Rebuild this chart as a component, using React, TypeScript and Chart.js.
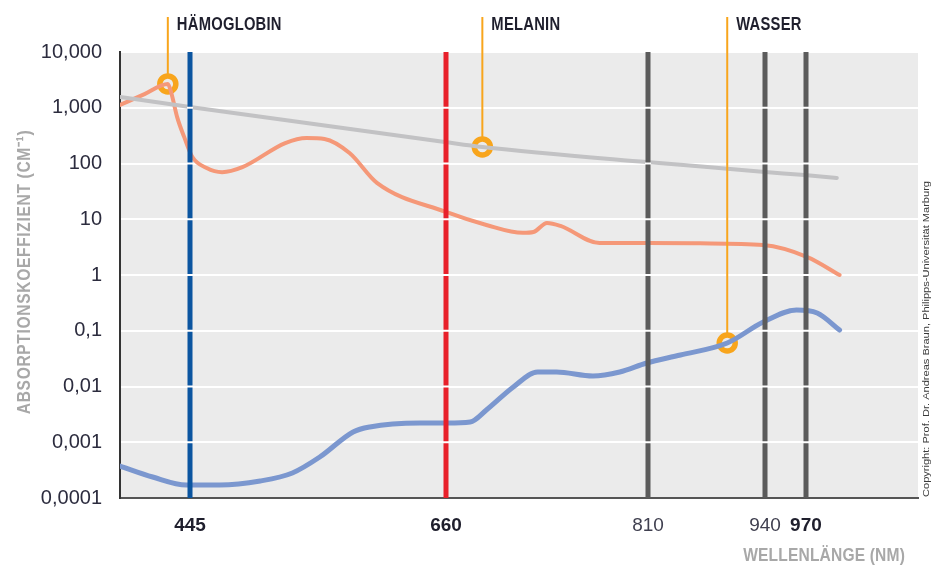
import { useEffect, useRef } from 'react';
import { Chart, registerables, LinearScale } from 'chart.js';

// ---- Data -------------------------------------------------------------
// Absorption curves (wavelength in nm, absorption coefficient in cm^-1)
const hbWavelength = [385, 406, 426, 429, 434, 440, 447, 459, 472, 489, 525, 543, 558, 579, 602, 660, 690, 717, 725, 735, 745, 774, 810, 868, 938, 971, 994];
const hbAbsorption = [1120, 1760, 2670, 1840, 680, 300, 131, 83, 70, 86, 233, 287, 275, 154, 45, 13.5, 7.9, 5.7, 5.9, 8.6, 7.6, 3.75, 3.75, 3.7, 3.45, 2.1, 1.0];

const melWavelength = [385, 445, 659, 687, 809, 876, 940, 969, 992];
const melAbsorption = [1560, 1030, 243, 198, 106, 86.5, 70.4, 62.2, 55];

const waterWavelength = [385, 413, 442, 470, 504, 531, 554, 582, 596, 638, 661, 678, 690, 710, 728, 742, 769, 789, 809, 846, 898, 938, 963, 978, 994];
const waterAbsorption = [0.000375, 0.000238, 0.000171, 0.000171, 0.000202, 0.000281, 0.000543, 0.00153, 0.00188, 0.00221, 0.00221, 0.00231, 0.00379, 0.0098, 0.0182, 0.0182, 0.0154, 0.0182, 0.0264, 0.0367, 0.0603, 0.1435, 0.2355, 0.208, 0.103];

// Labelled points on each curve
const markerLabels = ['HÄMOGLOBIN', 'MELANIN', 'WASSER'];
const markerWavelength = [426, 687, 898];
const markerAbsorption = [2670, 198, 0.0603];

// Wavelengths of the vertical lines / x tick labels
const bandWavelengths = [445, 660, 810, 940, 970];
const bandLabels = ['445', '660', '810', '940', '970'];
const bandBold = [true, true, false, false, true];

// y axis decades
const yTickValues = [0.0001, 0.001, 0.01, 0.1, 1, 10, 100, 1000, 10000];
const yTickLabels = ['0,0001', '0,001', '0,01', '0,1', '1', '10', '100', '1,000', '10,000'];

// ---- Styles -----------------------------------------------------------
const HB_COLOR = '#f59878';
const MEL_COLOR = '#c2c2c4';
const WATER_COLOR = '#7b97cf';
const MARKER_COLOR = '#f8a51c';
const BAND_COLORS = ['#0b55a0', '#e8202a', '#5b5b5b', '#5b5b5b', '#5b5b5b'];
const PLOT_BG = '#ebebeb';
const SANS = '"Liberation Sans", Arial, sans-serif';

// ---- Piecewise-linear wavelength axis ---------------------------------
const WARP_NM = [385, 445, 660, 810, 940, 970, 1050];
const WARP_POS = [0, 0.0877, 0.4085, 0.6617, 0.8083, 0.8596, 1];

function interp(v: number, from: number[], to: number[]) {
  if (v <= from[0]) return to[0] + (v - from[0]) * (to[1] - to[0]) / (from[1] - from[0]);
  for (let i = 1; i < from.length; i++) {
    if (v <= from[i]) {
      const t = (v - from[i - 1]) / (from[i] - from[i - 1]);
      return to[i - 1] + t * (to[i] - to[i - 1]);
    }
  }
  const n = from.length - 1;
  return to[n] + (v - from[n]) * (to[n] - to[n - 1]) / (from[n] - from[n - 1]);
}

class WarpedScale extends LinearScale {
  static id = 'warped';
  static defaults = {};
  getPixelForValue(value: number) {
    if (value === null || value === undefined) return NaN;
    return this.getPixelForDecimal(interp(value, WARP_NM, WARP_POS));
  }
  getValueForPixel(pixel: number) {
    return interp(this.getDecimalForPixel(pixel), WARP_POS, WARP_NM);
  }
}

Chart.register(...registerables, WarpedScale);

const toPoints = (xs: number[], ys: number[]) => xs.map((x, i) => ({ x, y: ys[i] }));

function drawScaledText(
  ctx: CanvasRenderingContext2D, text: string, x: number, y: number,
  font: string, color: string, sx: number, align: 'left' | 'right' | 'center', spacing = 0
) {
  ctx.save();
  ctx.font = font;
  (ctx as any).letterSpacing = spacing + 'px';
  ctx.fillStyle = color;
  ctx.textBaseline = 'alphabetic';
  ctx.textAlign = 'left';
  const w = ctx.measureText(text).width * sx;
  const left = align === 'left' ? x : align === 'right' ? x - w : x - w / 2;
  ctx.translate(left, y);
  ctx.scale(sx, 1);
  ctx.fillText(text, 0, 0);
  ctx.restore();
}

const plotBackground = {
  id: 'plotBackground',
  beforeDraw(chart: any) {
    const { ctx, chartArea: a } = chart;
    ctx.save();
    ctx.fillStyle = PLOT_BG;
    ctx.fillRect(a.left, a.top, a.right - a.left, a.bottom - a.top);
    ctx.restore();
  },
};

const overlay = {
  id: 'overlay',
  afterDatasetsDraw(chart: any) {
    const { ctx, chartArea: a, scales } = chart;
    const xs = scales.x;
    const ys = scales.y;
    ctx.save();
    // vertical wavelength lines, interrupted by the white decade grid
    bandWavelengths.forEach((wl, i) => {
      const px = Math.round(xs.getPixelForValue(wl));
      ctx.strokeStyle = BAND_COLORS[i];
      ctx.lineWidth = 5;
      ctx.beginPath();
      ctx.moveTo(px, a.top);
      ctx.lineTo(px, a.bottom);
      ctx.stroke();
      ctx.fillStyle = '#ffffff';
      yTickValues.forEach((v) => {
        const py = ys.getPixelForValue(v);
        if (py > a.top + 1 && py < a.bottom - 1) ctx.fillRect(px - 3, py - 1, 6, 2);
      });
    });
    // leader lines and labels for the marked curves
    markerLabels.forEach((label, i) => {
      const px = xs.getPixelForValue(markerWavelength[i]);
      const py = ys.getPixelForValue(markerAbsorption[i]);
      ctx.strokeStyle = MARKER_COLOR;
      ctx.lineWidth = 2;
      ctx.beginPath();
      ctx.moveTo(px, 17);
      ctx.lineTo(px, py - 10);
      ctx.stroke();
      drawScaledText(ctx, label, px + 9, 30, `bold 18px ${SANS}`, '#1f1f2d', 0.82, 'left', 0.3);
    });
    ctx.restore();
  },
  afterDraw(chart: any) {
    const { ctx } = chart;
    // y axis title
    ctx.save();
    ctx.translate(30, 272);
    ctx.rotate(-Math.PI / 2);
    drawScaledText(ctx, 'ABSORPTIONSKOEFFIZIENT (CM⁻¹)', 0, 0, `bold 19px ${SANS}`, '#a8a8a8', 0.82, 'center', 0.8);
    ctx.restore();
    // x axis title
    drawScaledText(ctx, 'WELLENLÄNGE (NM)', 905, 561, `bold 19px ${SANS}`, '#a8a8a8', 0.82, 'right', 0.2);
    // copyright note
    const note = 'Copyright: Prof. Dr. Andreas Braun, Philipps-Universität Marburg';
    ctx.save();
    ctx.font = `9px ${SANS}`;
    const w = ctx.measureText(note).width;
    ctx.translate(929, 497);
    ctx.rotate(-Math.PI / 2);
    drawScaledText(ctx, note, 0, 0, `9px ${SANS}`, '#3a3a3a', 316 / w, 'left');
    ctx.restore();
  },
};

export default function App() {
  const canvasRef = useRef<HTMLCanvasElement>(null);

  useEffect(() => {
    if (!canvasRef.current) return;
    const lineStyle = {
      type: 'line' as const,
      fill: false,
      pointRadius: 0,
      cubicInterpolationMode: 'monotone' as const,
      borderCapStyle: 'round' as const,
      borderJoinStyle: 'round' as const,
    };
    const chart = new Chart(canvasRef.current, {
      type: 'line',
      data: {
        datasets: [
          { ...lineStyle, label: 'Melanin', data: toPoints(melWavelength, melAbsorption), borderColor: MEL_COLOR, borderWidth: 4 },
          { ...lineStyle, label: 'Hämoglobin', data: toPoints(hbWavelength, hbAbsorption), borderColor: HB_COLOR, borderWidth: 4 },
          { ...lineStyle, label: 'Wasser', data: toPoints(waterWavelength, waterAbsorption), borderColor: WATER_COLOR, borderWidth: 5 },
          {
            type: 'scatter',
            label: 'Marker',
            data: toPoints(markerWavelength, markerAbsorption),
            showLine: false,
            pointRadius: 8,
            pointBorderWidth: 5.5,
            pointBorderColor: MARKER_COLOR,
            pointBackgroundColor: 'rgba(0,0,0,0)',
          } as any,
        ],
      },
      options: {
        animation: false,
        responsive: false,
        maintainAspectRatio: false,
        events: [],
        layout: { padding: { top: 52, right: 15, left: 0, bottom: 0 } },
        plugins: { legend: { display: false }, tooltip: { enabled: false } },
        scales: {
          x: {
            type: 'warped' as any,
            min: 385,
            max: 1050,
            grid: { display: false },
            border: { display: true, color: '#555555', width: 2 },
            afterBuildTicks: (s: any) => { s.ticks = bandWavelengths.map((v) => ({ value: v })); },
            afterFit: (s: any) => { s.height = 67; },
            ticks: {
              autoSkip: false,
              maxRotation: 0,
              padding: 8,
              callback: (_v: any, i: number) => bandLabels[i],
              font: (c: any) => ({ family: SANS, size: 19, weight: bandBold[c.index] ? 'bold' : 'normal' }),
              color: (c: any) => (bandBold[c.index] ? '#1f1f2d' : '#3f3f4f'),
            },
          } as any,
          y: {
            type: 'logarithmic',
            min: 0.0001,
            max: 10000,
            grid: { color: '#ffffff', lineWidth: 2, drawTicks: false },
            border: { display: true, color: '#333333', width: 2 },
            afterBuildTicks: (s: any) => { s.ticks = yTickValues.map((v) => ({ value: v })); },
            afterFit: (s: any) => { s.width = 120; },
            ticks: {
              padding: 18,
              callback: (_v: any, i: number) => yTickLabels[i],
              font: { family: SANS, size: 20 },
              color: '#2c2c3e',
            },
          },
        },
      },
      plugins: [plotBackground, overlay],
    });
    return () => chart.destroy();
  }, []);

  return (
    <div style={{ position: 'fixed', left: 0, top: 0, width: 933, height: 565, background: '#ffffff' }}>
      <canvas ref={canvasRef} width={933} height={565} />
    </div>
  );
}
